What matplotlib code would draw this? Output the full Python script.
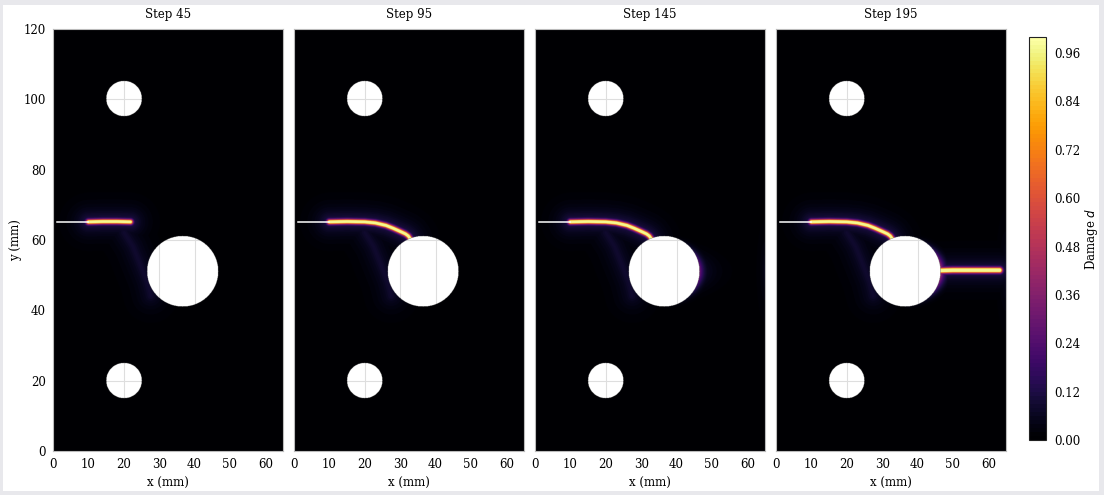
import numpy as np
import matplotlib
matplotlib.use("Agg")
import matplotlib.pyplot as plt
from matplotlib.colors import ListedColormap, Normalize
from matplotlib.patches import Rectangle
import matplotlib.cm as cm

plt.rcParams['font.family'] = ['DejaVu Serif']

# ---------------- data ----------------
steps = [45, 95, 145, 195]
plate_width = 65.0
plate_height = 120.0

hole_x = [20.0, 20.0, 36.5]
hole_y = [100.0, 20.0, 51.0]
hole_r = [5.0, 5.0, 10.0]

notch_x = [1.0, 10.0]
notch_y = [65.0, 65.0]

# main crack path (from notch tip), per step
crack45_x = [10.0, 14.0, 18.0, 21.8]
crack45_y = [65.0, 65.1, 65.1, 65.0]
crack95_x = [10.0, 15.0, 20.0, 23.0, 26.0, 28.0, 30.0, 31.5, 32.3, 32.8]
crack95_y = [65.0, 65.1, 65.0, 64.7, 64.0, 63.2, 62.3, 61.6, 61.0, 60.3]
crack145_x = crack95_x
crack145_y = crack95_y
crack195_x = crack95_x
crack195_y = crack95_y
# branch crack on the right of the big hole (step 195)
branch195_x = [46.4, 50.0, 55.0, 60.0, 63.2]
branch195_y = [51.2, 51.3, 51.3, 51.3, 51.3]

# faint diffuse damage zones (path, peak level)
halo_tail_x = [20.0, 22.5, 24.5, 26.5, 27.5]
halo_tail_y = [62.0, 58.0, 53.0, 48.0, 44.0]
halo_tail_level = [0.09, 0.09, 0.09, 0.09]
halo_hole_right_level = [0.0, 0.0, 0.32, 0.45]
halo_edge_level = [0.0, 0.0, 0.05, 0.07]

cbar_ticks = [0.00, 0.12, 0.24, 0.36, 0.48, 0.60, 0.72, 0.84, 0.96]

cracks_x = [crack45_x, crack95_x, crack145_x, crack195_x]
cracks_y = [crack45_y, crack95_y, crack145_y, crack195_y]
branches = [None, None, None, (branch195_x, branch195_y)]

# ---------------- field construction ----------------
res = 0.1
xs = np.arange(0, plate_width + res / 2, res)
ys = np.arange(0, plate_height + res / 2, res)
X, Y = np.meshgrid(xs, ys)


def dist_polyline(px, py):
    d = np.full(X.shape, np.inf)
    for i in range(len(px) - 1):
        ax_, ay_ = px[i], py[i]
        bx, by = px[i + 1], py[i + 1]
        vx, vy = bx - ax_, by - ay_
        L2 = vx * vx + vy * vy
        t = np.clip(((X - ax_) * vx + (Y - ay_) * vy) / L2, 0, 1)
        dx = X - (ax_ + t * vx)
        dy = Y - (ay_ + t * vy)
        d = np.minimum(d, np.sqrt(dx * dx + dy * dy))
    return d


hole_mask = np.zeros(X.shape, bool)
for hx, hy, hr in zip(hole_x, hole_y, hole_r):
    hole_mask |= (X - hx) ** 2 + (Y - hy) ** 2 <= hr ** 2

big_dist = np.sqrt((X - hole_x[2]) ** 2 + (Y - hole_y[2]) ** 2) - hole_r[2]

fields = []
for k in range(4):
    dc = dist_polyline(cracks_x[k], cracks_y[k])
    D = 0.97 * np.exp(-np.maximum(dc - 0.35, 0) / 0.42)
    D = np.maximum(D, 0.16 * np.exp(-dc / 3.0))
    dt = dist_polyline(halo_tail_x, halo_tail_y)
    D = np.maximum(D, halo_tail_level[k] * np.exp(-dt / 3.5))
    if branches[k] is not None:
        bx, by = branches[k]
        db = dist_polyline(bx, by)
        D = np.maximum(D, 0.97 * np.exp(-np.maximum(db - 0.45, 0) / 0.45))
        D = np.maximum(D, 0.16 * np.exp(-db / 3.0))
    # damage near the right side of the big hole
    ang = np.exp(-((Y - hole_y[2]) / 6.0) ** 2) * (X > hole_x[2])
    D = np.maximum(D, halo_hole_right_level[k] * ang * np.exp(-np.maximum(big_dist, 0) / 1.3))
    D = np.maximum(D, 0.10 * (halo_hole_right_level[k] > 0) * ang * np.exp(-np.maximum(big_dist, 0) / 4.0))
    # faint zone at the right edge
    de = np.sqrt(((X - plate_width) / 1.5) ** 2 + ((Y - hole_y[2]) / 9.0) ** 2)
    D = np.maximum(D, halo_edge_level[k] * np.exp(-de))
    D = np.clip(D, 0, 1)
    D = np.ma.masked_where(hole_mask, D)
    fields.append(D)

# ---------------- figure ----------------
W, H = 1104, 495
fig = plt.figure(figsize=(W / 100, H / 100), dpi=100)
fig.patch.set_facecolor('#e8e8ec')
fig.add_artist(Rectangle((3 / W, 4 / H), (1099 - 3) / W, (490 - 4) / H,
                         transform=fig.transFigure, facecolor='white',
                         edgecolor='none', zorder=-10))

cmap = ListedColormap(plt.get_cmap('inferno')(np.linspace(0, 1, 100)))
norm = Normalize(0, 1)

ax_left = [53, 294, 535, 776]
ax_w = 230
ax_top = 29
ax_bot = 451
fs = 8.5

for k in range(4):
    ax = fig.add_axes([ax_left[k] / W, (H - ax_bot) / H, ax_w / W, (ax_bot - ax_top) / H])
    ax.set_facecolor('white')
    ax.set_axisbelow(True)
    ax.grid(True, color='#dedede', linewidth=0.8, zorder=0)
    ax.imshow(fields[k], cmap=cmap, norm=norm, origin='lower',
              extent=[-res / 2, plate_width + res / 2, -res / 2, plate_height + res / 2],
              aspect='auto', zorder=1, interpolation='antialiased')
    ax.plot(notch_x, notch_y, color='white', linewidth=1.1, zorder=3)
    ax.set_xlim(0, plate_width)
    ax.set_ylim(0, plate_height)
    ax.set_xticks(np.arange(0, 61, 10))
    ax.set_yticks(np.arange(0, 121, 20))
    ax.tick_params(length=0, labelsize=fs, pad=5)
    ax.set_title(f"Step {steps[k]}", fontsize=fs, pad=8)
    ax.set_xlabel("x (mm)", fontsize=fs, labelpad=4)
    if k == 0:
        ax.set_ylabel("y (mm)", fontsize=fs, labelpad=1)
    else:
        ax.set_yticklabels([])
    for s in ax.spines.values():
        s.set_color('#bbbbbb')
        s.set_linewidth(0.8)
        s.set_zorder(4)

cax = fig.add_axes([1029 / W, (H - 440) / H, 17 / W, (440 - 37) / H])
sm = cm.ScalarMappable(norm=norm, cmap=cmap)
cb = fig.colorbar(sm, cax=cax, ticks=cbar_ticks, format='%.2f')
cb.outline.set_edgecolor('#222222')
cb.outline.set_linewidth(0.8)
cax.tick_params(length=0, labelsize=fs, pad=6)
cb.set_label("Damage $d$", fontsize=fs, labelpad=2)

fig.savefig("out.png", dpi=100, facecolor=fig.get_facecolor())
